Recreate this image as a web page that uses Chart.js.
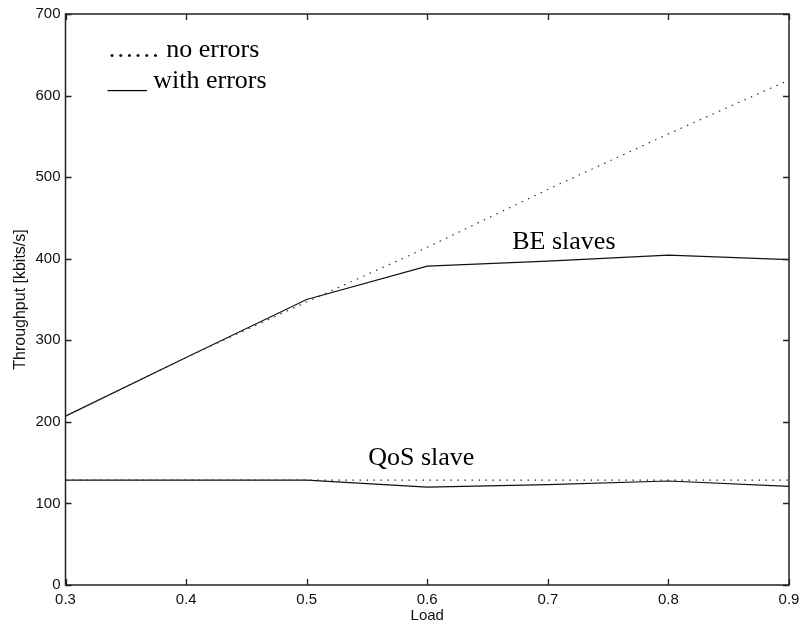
<!DOCTYPE html>
<html>
<head>
<meta charset="utf-8">
<script src="https://cdn.jsdelivr.net/npm/chart.js@4/dist/chart.umd.min.js"></script>
<style>
  html, body { margin: 0; padding: 0; background: #fff; }
  #wrap { width: 799px; height: 628px; }
</style>
</head>
<body>
<div id="wrap"><canvas id="c" width="799" height="628"></canvas></div>
<script>
// ---- data ----
const loads      = [0.3, 0.4, 0.5, 0.6, 0.7, 0.8, 0.9];
const beNoErrors = [207, 279, 347, 414, 485, 553, 619];
const beErrors   = [207, 279, 350, 391, 397, 404.5, 399];
const qosNoErrors= [128.5, 128.5, 128.5, 128.5, 128.5, 128.5, 128.5];
const qosErrors  = [128.5, 128.5, 128.5, 120, 123, 127.5, 121];
const yTicks     = [0, 100, 200, 300, 400, 500, 600, 700];
const xTicks     = [0.3, 0.4, 0.5, 0.6, 0.7, 0.8, 0.9];
const legendLines = ['\u2026\u2026 no errors', '___ with errors'];
const seriesNotes = ['BE slaves', 'QoS slave'];

const pts = (ys) => loads.map((x, i) => ({ x: x, y: ys[i] }));

const dotted = { borderColor: '#333', borderWidth: 1.2, borderDash: [1.5, 5.5], pointRadius: 0, tension: 0, fill: false };
const solid  = { borderColor: '#111', borderWidth: 1.2, pointRadius: 0, tension: 0, fill: false };

const serif = '"Liberation Serif", "Times New Roman", serif';
const sans  = '"Liberation Sans", Arial, sans-serif';

const framePlugin = {
  id: 'frame',
  afterDraw(chart) {
    const ctx = chart.ctx;
    const a = chart.chartArea;
    const xs = chart.scales.x, ys = chart.scales.y;
    ctx.save();
    ctx.strokeStyle = '#222';
    ctx.lineWidth = 1.5;
    ctx.strokeRect(a.left, a.top, a.right - a.left, a.bottom - a.top);
    ctx.lineWidth = 1.3;
    const tl = 6;
    ctx.beginPath();
    xTicks.forEach(v => {
      const px = Math.round(xs.getPixelForValue(v)) + 0.5;
      ctx.moveTo(px, a.bottom); ctx.lineTo(px, a.bottom - tl);
      ctx.moveTo(px, a.top); ctx.lineTo(px, a.top + tl);
    });
    yTicks.forEach(v => {
      const py = Math.round(ys.getPixelForValue(v)) + 0.5;
      ctx.moveTo(a.left, py); ctx.lineTo(a.left + tl, py);
      ctx.moveTo(a.right, py); ctx.lineTo(a.right - tl, py);
    });
    ctx.stroke();

    // text annotations (placed in data coordinates)
    ctx.fillStyle = '#000';
    ctx.font = '26px ' + serif;
    ctx.textBaseline = 'alphabetic';
    ctx.textAlign = 'left';
    ctx.fillText(legendLines[0], xs.getPixelForValue(0.335), ys.getPixelForValue(647));
    ctx.fillText(legendLines[1], xs.getPixelForValue(0.335), ys.getPixelForValue(609));
    ctx.fillText(seriesNotes[0], xs.getPixelForValue(0.6705), ys.getPixelForValue(412));
    ctx.fillText(seriesNotes[1], xs.getPixelForValue(0.551), ys.getPixelForValue(147));
    ctx.restore();
  }
};

new Chart(document.getElementById('c'), {
  type: 'line',
  data: {
    datasets: [
      Object.assign({ label: 'BE no errors', data: pts(beNoErrors) }, dotted),
      Object.assign({ label: 'BE with errors', data: pts(beErrors) }, solid),
      Object.assign({ label: 'QoS no errors', data: pts(qosNoErrors) }, dotted),
      Object.assign({ label: 'QoS with errors', data: pts(qosErrors) }, solid)
    ]
  },
  options: {
    responsive: false,
    animation: false,
    devicePixelRatio: 1,
    layout: { padding: { left: 0, top: 14, right: 10, bottom: 0 } },
    plugins: { legend: { display: false }, tooltip: { enabled: false } },
    scales: {
      x: {
        type: 'linear', min: 0.3, max: 0.9,
        afterBuildTicks: (s) => { s.ticks = xTicks.map(v => ({ value: v })); },
        afterFit: (s) => { s.height = 43; s.paddingLeft = 0; s.paddingRight = 0; },
        grid: { display: false, drawTicks: false },
        border: { display: false },
        ticks: { color: '#111', padding: 6, maxRotation: 0, autoSkip: false,
                 font: { family: sans, size: 15 },
                 callback: (v) => (Math.round(v * 10) / 10).toString() },
        title: { display: true, text: 'Load', color: '#111',
                 font: { family: sans, size: 15 }, padding: { top: 0, bottom: 3 } }
      },
      y: {
        type: 'linear', min: 0, max: 700,
        afterBuildTicks: (s) => { s.ticks = yTicks.map(v => ({ value: v })); },
        afterFit: (s) => { s.width = 65.5; s.paddingTop = 0; s.paddingBottom = 0; },
        grid: { display: false, drawTicks: false },
        border: { display: false },
        ticks: { color: '#111', padding: 5, autoSkip: false,
                 font: { family: sans, size: 15 } },
        title: { display: true, text: 'Throughput [kbits/s]', color: '#111',
                 font: { family: sans, size: 16 }, padding: { top: 11, bottom: 0 } }
      }
    }
  },
  plugins: [framePlugin]
});
</script>
</body>
</html>
